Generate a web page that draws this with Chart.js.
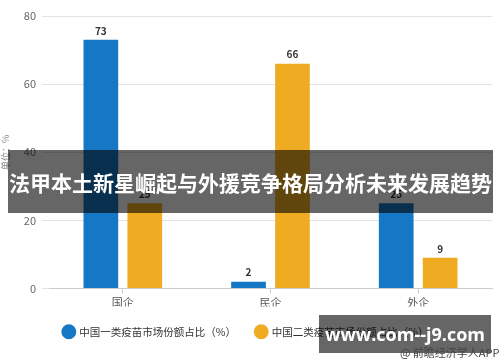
<!DOCTYPE html>
<html><head><meta charset="utf-8">
<script src="https://cdn.jsdelivr.net/npm/chart.js@4/dist/chart.umd.min.js"></script>
<style>
html,body{margin:0;padding:0;background:#fff;}
#wrap{position:relative;width:500px;height:362px;overflow:hidden;}
#c{position:absolute;left:0;top:0;}
.banner{position:absolute;left:8px;top:150px;width:485px;height:63px;background:rgba(0,0,0,0.6);color:#fff;font-weight:bold;font-size:21px;font-family:"Noto Sans CJK SC";display:flex;align-items:center;justify-content:center;white-space:nowrap;}
.wm{position:absolute;left:319px;top:315px;width:172px;height:38px;background:rgba(0,0,0,0.6);color:#fff;font-weight:bold;font-size:18px;font-family:"Open Sans";display:flex;align-items:center;justify-content:center;white-space:nowrap;}
.src{position:absolute;left:400px;top:344px;font-size:11px;font-family:"Noto Sans CJK SC";color:#444;white-space:nowrap;}
</style>
</head><body>
<div id="wrap">
<canvas id="c" width="500" height="362"></canvas>
<div class="banner">法甲本土新星崛起与外援竞争格局分析未来发展趋势</div>
<div class="wm">www.com--j9.com</div>
<div class="src">@ 前瞻经济学人APP</div>
</div>
<script>
const categories = ['国企', '民企', '外企'];
const seriesNames = ['中国一类疫苗市场份额占比（%）', '中国二类疫苗市场份额占比（%）'];
const classOneShare = [73, 2, 25];
const classTwoShare = [25, 66, 9];
const yAxisTitle = '单位：%';
const yMin = 0, yMax = 80, yStep = 20;

const FONT = '"Noto Sans CJK SC", "Noto Sans", sans-serif';

const valueLabels = {
  id: 'valueLabels',
  afterDatasetsDraw(chart) {
    const ctx = chart.ctx;
    ctx.save();
    ctx.font = 'bold 10px ' + FONT;
    ctx.fillStyle = '#333';
    ctx.textAlign = 'center';
    ctx.textBaseline = 'bottom';
    chart.data.datasets.forEach((ds, i) => {
      chart.getDatasetMeta(i).data.forEach((bar, j) => {
        ctx.fillText(String(ds.data[j]), bar.x, bar.y - 4);
      });
    });
    ctx.restore();
  }
};

new Chart(document.getElementById('c'), {
  type: 'bar',
  data: {
    labels: categories,
    datasets: [
      { label: seriesNames[0], data: classOneShare, backgroundColor: '#1677c4', categoryPercentage: 0.595, barPercentage: 0.79 },
      { label: seriesNames[1], data: classTwoShare, backgroundColor: '#efac22', categoryPercentage: 0.595, barPercentage: 0.79 }
    ]
  },
  options: {
    responsive: false,
    animation: false,
    devicePixelRatio: 1,
    layout: { padding: { left: 0, right: 8, top: 16, bottom: 15 } },
    plugins: {
      tooltip: { enabled: false },
      legend: {
        position: 'bottom',
        labels: {
          usePointStyle: true,
          pointStyle: 'circle',
          boxWidth: 11,
          boxHeight: 11,
          padding: 20,
          color: '#333',
          font: { family: FONT, size: 10.5 }
        }
      }
    },
    scales: {
      x: {
        grid: { drawOnChartArea: false, offset: false, drawTicks: true, tickLength: 5, color: '#ccc' },
        border: { color: '#ccc' },
        ticks: { color: '#555', padding: 3, font: { family: FONT, size: 11 } },
        afterFit(scale) { scale.height = 18; }
      },
      y: {
        min: yMin, max: yMax,
        ticks: { stepSize: yStep, color: '#666', padding: 6, font: { family: FONT, size: 11 } },
        grid: { color: '#e3e3e3', tickLength: 7 },
        border: { display: false },
        title: { display: true, text: yAxisTitle, color: '#888', font: { family: FONT, size: 9 }, padding: { top: 0, bottom: 2 } },
        afterFit(scale) { scale.width = 49; }
      }
    }
  },
  plugins: [valueLabels]
});
</script>
</body></html>
